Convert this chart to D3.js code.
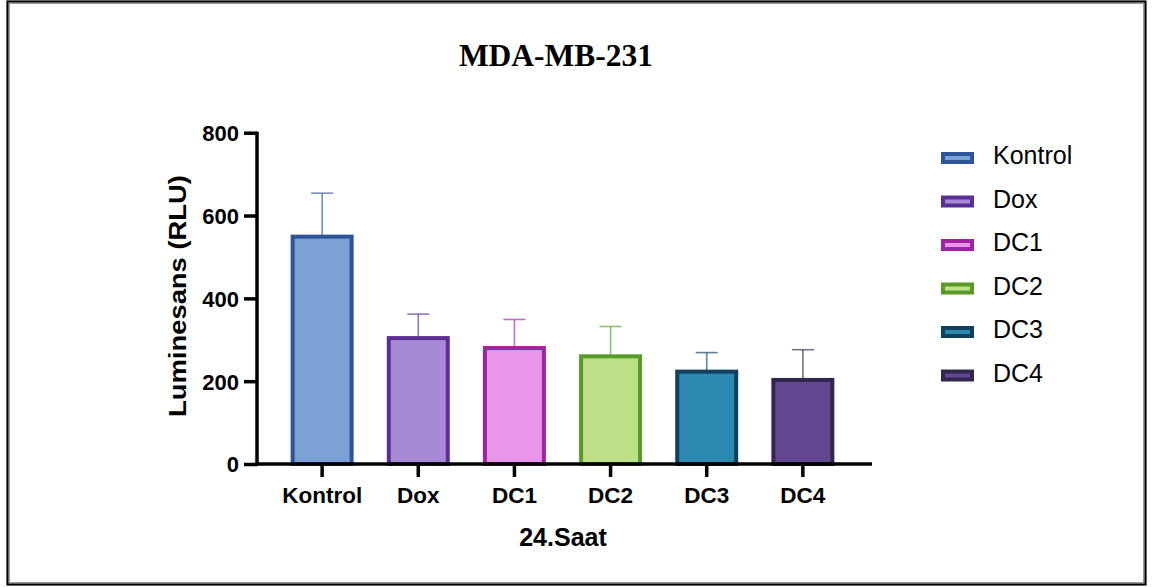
<!DOCTYPE html>
<html>
<head>
<meta charset="utf-8">
<script src="https://cdn.jsdelivr.net/npm/d3@7"></script>
<style>
  html, body { margin: 0; padding: 0; background: #fff; }
  svg { display: block; }
</style>
</head>
<body>
<svg id="chart" width="1153" height="587"></svg>
<script>
// Luminescence readings after 24 h, MDA-MB-231
const groups = ["Kontrol", "Dox", "DC1", "DC2", "DC3", "DC4"];
const means  = [549, 304, 280, 260, 223, 203];
const sds    = [105, 58, 69, 72, 46, 73];
const fills  = ["#7ba1d5", "#a68ad3", "#e995e9", "#bddf88", "#2e89b0", "#634791"];
const edges  = ["#2d5597", "#5a2f92", "#a0239f", "#5a9a2a", "#10405d", "#30264f"];
const yTicks = [0, 200, 400, 600, 800];

const svg = d3.select("#chart");

// outer frame: dark outline with a thin grey inner line
svg.append("rect")
  .attr("x", 9.5).attr("y", 3.5)
  .attr("width", 1134).attr("height", 579)
  .attr("fill", "none").attr("stroke", "#999").attr("stroke-width", 1);
svg.append("rect")
  .attr("x", 7.5).attr("y", 1.5)
  .attr("width", 1138).attr("height", 583)
  .attr("fill", "none").attr("stroke", "#000").attr("stroke-width", 2.2);

// title
svg.append("text")
  .attr("x", 556).attr("y", 66)
  .attr("text-anchor", "middle")
  .attr("font-family", "Liberation Serif, Times New Roman, serif")
  .attr("font-weight", "bold")
  .attr("font-size", 31.5)
  .text("MDA-MB-231");

const x0 = 257, x1 = 868, yBase = 464, yTop = 132.7;

const x = d3.scaleBand()
  .domain(groups)
  .range([x0, x1])
  .paddingInner(0.345)
  .paddingOuter(0.35);

const y = d3.scaleLinear().domain([0, 800]).range([yBase, yTop]);

const font = "Liberation Sans, Arial, Helvetica, sans-serif";

// error bars (drawn under the bars)
const eg = svg.append("g");
groups.forEach((g, i) => {
  const cx = x(g) + x.bandwidth() / 2;
  const col = edges[i];
  eg.append("line")
    .attr("x1", cx).attr("x2", cx)
    .attr("y1", y(means[i])).attr("y2", y(means[i] + sds[i]))
    .attr("stroke", col).attr("stroke-opacity", 0.65).attr("stroke-width", 1.6);
  eg.append("line")
    .attr("x1", cx - 11).attr("x2", cx + 11)
    .attr("y1", y(means[i] + sds[i])).attr("y2", y(means[i] + sds[i]))
    .attr("stroke", col).attr("stroke-opacity", 0.65).attr("stroke-width", 1.6);
});

// bars
svg.append("g").selectAll("rect")
  .data(groups)
  .join("rect")
  .attr("x", d => x(d) + 2)
  .attr("width", x.bandwidth() - 4)
  .attr("y", (d, i) => y(means[i]))
  .attr("height", (d, i) => yBase - y(means[i]))
  .attr("fill", (d, i) => fills[i])
  .attr("stroke", (d, i) => edges[i])
  .attr("stroke-width", 4);

// y axis
const yAxis = d3.axisLeft(y).tickValues(yTicks).tickSize(13).tickPadding(5).tickSizeOuter(0);
const yg = svg.append("g").attr("transform", `translate(${x0},0)`).call(yAxis);
yg.select(".domain").attr("stroke", "#000").attr("stroke-width", 3.5)
  .attr("d", `M0,${yTop - 1}V${yBase + 1.5}`);
yg.selectAll(".tick line").attr("stroke", "#000").attr("stroke-width", 3.5);
yg.selectAll(".tick text")
  .attr("font-family", font).attr("font-weight", "bold").attr("font-size", 22)
  .attr("fill", "#000").attr("dy", "0.36em");

// x axis
const xAxis = d3.axisBottom(x).tickSize(13).tickPadding(10).tickSizeOuter(0);
const xg = svg.append("g").attr("transform", `translate(0,${yBase})`).call(xAxis);
xg.select(".domain").attr("stroke", "#000").attr("stroke-width", 3.5)
  .attr("d", `M${x0 - 1.5},0H872`);
xg.selectAll(".tick line").attr("stroke", "#000").attr("stroke-width", 3.5);
xg.selectAll(".tick text")
  .attr("font-family", font).attr("font-weight", "bold").attr("font-size", 22.5)
  .attr("fill", "#000");

// axis titles
svg.append("text")
  .attr("x", 563).attr("y", 546)
  .attr("text-anchor", "middle")
  .attr("font-family", font).attr("font-weight", "bold").attr("font-size", 25)
  .text("24.Saat");

svg.append("text")
  .attr("transform", "translate(186,296) rotate(-90)")
  .attr("text-anchor", "middle")
  .attr("font-family", font).attr("font-weight", "bold").attr("font-size", 23.5)
  .attr("textLength", 242).attr("lengthAdjust", "spacingAndGlyphs")
  .text("Luminesans (RLU)");

// legend
const lg = svg.append("g").attr("transform", "translate(941,158)");
groups.forEach((g, i) => {
  const row = lg.append("g").attr("transform", `translate(0,${i * 43.5})`);
  row.append("rect")
    .attr("x", 2).attr("y", -4)
    .attr("width", 29).attr("height", 8)
    .attr("fill", fills[i]).attr("stroke", edges[i]).attr("stroke-width", 4);
  row.append("text")
    .attr("x", 52).attr("y", -3).attr("dy", "0.36em")
    .attr("font-family", font).attr("font-size", 25)
    .text(g);
});
</script>
</body>
</html>
